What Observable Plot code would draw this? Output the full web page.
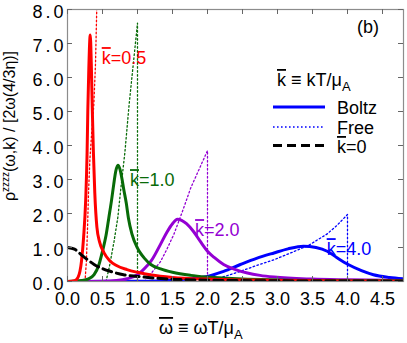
<!DOCTYPE html>
<html><head><meta charset="utf-8">
<script src="https://cdn.jsdelivr.net/npm/d3@7"></script>
<script src="https://cdn.jsdelivr.net/npm/@observablehq/plot@0.6"></script>
<style>body{margin:0;background:#fff} svg{display:block}</style>
</head><body><div id="chart"></div>
<script>
// ---- data ----
const xTicks = [0, 0.5, 1.0, 1.5, 2.0, 2.5, 3.0, 3.5, 4.0, 4.5];
const yTicks = [0, 1, 2, 3, 4, 5, 6, 7, 8];

const boltzK05 = [[0,0],[0.1,0.02],[0.15,0.12],[0.2,0.6],[0.23,1.3],[0.26,2.4],[0.28,3.8],[0.29,5.0],[0.305,6.3],[0.325,7.25],[0.34,6.4],[0.355,5.0],[0.37,3.8],[0.39,2.6],[0.42,1.6],[0.46,1.15],[0.52,0.85],[0.6,0.62],[0.7,0.47],[0.85,0.35],[1.0,0.27],[1.2,0.19],[1.5,0.12],[2.0,0.07],[2.5,0.045],[3.0,0.03],[4.0,0.015],[4.8,0.01]];
const boltzK10 = [[0,0],[0.2,0.03],[0.3,0.08],[0.38,0.2],[0.45,0.5],[0.5,0.89],[0.55,1.35],[0.59,1.87],[0.63,2.4],[0.66,2.85],[0.69,3.25],[0.72,3.42],[0.75,3.3],[0.78,3.0],[0.8,2.75],[0.84,2.3],[0.87,1.87],[0.92,1.4],[1.0,0.98],[1.04,0.84],[1.1,0.68],[1.19,0.5],[1.33,0.37],[1.5,0.27],[1.76,0.18],[2.0,0.13],[2.5,0.07],[3.0,0.045],[4.0,0.025],[4.8,0.02]];
const boltzK20 = [[0,0],[0.5,0.01],[0.7,0.03],[0.85,0.08],[1.0,0.2],[1.07,0.32],[1.14,0.47],[1.2,0.62],[1.33,1.1],[1.42,1.45],[1.5,1.7],[1.57,1.83],[1.63,1.8],[1.7,1.7],[1.8,1.47],[1.9,1.17],[2.0,0.89],[2.1,0.7],[2.23,0.5],[2.4,0.35],[2.57,0.25],[2.75,0.18],[2.95,0.13],[3.5,0.07],[4.0,0.05],[4.8,0.03]];
const boltzK40 = [[0,0],[1.0,0.01],[1.5,0.04],[2.0,0.15],[2.23,0.3],[2.47,0.5],[2.7,0.68],[2.95,0.84],[3.15,0.96],[3.37,1.04],[3.55,1.0],[3.71,0.89],[3.85,0.7],[4.01,0.5],[4.2,0.32],[4.37,0.2],[4.6,0.12],[4.8,0.08]];
const freeK05 = [[0.25,0],[0.27,0.6],[0.285,1.5],[0.30,2.6],[0.32,3.6],[0.35,4.5],[0.376,5.2],[0.40,6.4],[0.42,8.2],[0.44,10]];
const freeK10 = [[0.55,0],[0.6,0.45],[0.665,1.18],[0.72,1.9],[0.76,2.7],[0.82,3.8],[0.88,5.2],[0.94,6.4],[1.0,7.6],[1.0,0]];
const freeK20 = [[1.1,0],[1.2,0.25],[1.33,0.59],[1.42,0.95],[1.52,1.39],[1.64,2.05],[1.76,2.75],[1.88,3.3],[2.0,3.85],[2.0,0]];
const freeK40 = [[2.0,0],[2.2,0.12],[2.47,0.3],[2.7,0.47],[2.95,0.64],[3.2,0.85],[3.45,1.07],[3.71,1.4],[3.85,1.65],[4.0,1.97],[4.0,0]];
const zeroK = [[0,1.0],[0.1,0.95],[0.19,0.8],[0.3,0.62],[0.38,0.5],[0.5,0.38],[0.61,0.3],[0.8,0.2],[1.0,0.15],[1.47,0.07],[2.0,0.04],[3.0,0.02],[4.8,0.01]];

const kNames = ["0.5", "1.0", "2.0", "4.0"];
const kColors = ["#ff0000", "#086b08", "#9400d3", "#0000ff"];
const boltzSeries = [boltzK05, boltzK10, boltzK20, boltzK40];
const freeSeries = [freeK05, freeK10, freeK20, freeK40];
const labelX = [0.496, 0.90, 1.83, 3.71];
const labelY = [6.38, 2.79, 1.32, 0.76];

// ---- build tables ----
const toRows = (arr, k) => arr.map(([x, y]) => ({x, y, k}));
const boltzRows = boltzSeries.flatMap((s, i) => toRows(s, kNames[i]));
const freeRows = freeSeries.flatMap((s, i) => toRows(s, kNames[i]));
const zeroRows = toRows(zeroK, "0");

const FONT = "'Liberation Sans', Arial, Helvetica, sans-serif";

const plot = Plot.plot({
  width: 407, height: 343,
  marginLeft: 67, marginRight: 4, marginTop: 9, marginBottom: 62,
  style: {fontFamily: FONT, fontSize: "18px", background: "#fff", color: "#000"},
  x: {domain: [0, 4.8], axis: null},
  y: {domain: [0, 8], axis: null},
  color: {domain: kNames, range: kColors},
  marks: [
    Plot.line(freeRows, {x: "x", y: "y", z: "k", stroke: "k", strokeWidth: 1.3, strokeDasharray: "1.6,2.4", clip: true}),
    Plot.line(boltzRows.filter(d => d.k === "4.0"), {x: "x", y: "y", stroke: "k", strokeWidth: 3, curve: "monotone-x", clip: true}),
    Plot.line(boltzRows.filter(d => d.k === "2.0"), {x: "x", y: "y", stroke: "k", strokeWidth: 3, curve: "monotone-x", clip: true}),
    Plot.line(boltzRows.filter(d => d.k === "1.0"), {x: "x", y: "y", stroke: "k", strokeWidth: 3, curve: "monotone-x", clip: true}),
    Plot.line(boltzRows.filter(d => d.k === "0.5"), {x: "x", y: "y", stroke: "k", strokeWidth: 3, curve: "monotone-x", clip: true}),
    Plot.line(zeroRows, {x: "x", y: "y", stroke: "#000", strokeWidth: 3, strokeDasharray: "9,5", curve: "monotone-x", clip: true}),
    Plot.frame({stroke: "#8c8c8c", strokeWidth: 1.2}),
    Plot.tickX(xTicks, {x: d => d, stroke: "#666", insetBottom: 267}),
    Plot.tickX(xTicks, {x: d => d, stroke: "#666", insetTop: 267}),
    Plot.tickY(yTicks, {y: d => d, stroke: "#666", insetRight: 331}),
    Plot.tickY(yTicks, {y: d => d, stroke: "#666", insetLeft: 331}),
    Plot.axisX(xTicks, {tickSize: 0, tickPadding: 11, tickFormat: d3.format(".1f"), fontSize: 18, label: null}),
    Plot.axisY(yTicks, {tickSize: 0, tickPadding: 1, tickFormat: d3.format(".1f"), fontSize: 18, label: null, dy: 3})
  ]
});
document.getElementById("chart").appendChild(plot);

const svg = d3.select(plot);
svg.selectAll('g[aria-label="y-axis tick label"] text').style("letter-spacing", "3px");
const xs = plot.scale("x"), ys = plot.scale("y");

// curve labels
const gl = svg.append("g").attr("font-family", FONT).attr("font-size", 18).attr("text-anchor", "start");
kNames.forEach((k, i) => {
  const t = gl.append("text").attr("x", xs.apply(labelX[i])).attr("y", ys.apply(labelY[i])).attr("fill", kColors[i]);
  t.append("tspan").style("text-decoration", "overline").text("k");
  t.append("tspan").text("=" + k);
});

// panel tag
gl.append("text").attr("x", 357).attr("y", 33).text("(b)");

// legend
const lg = svg.append("g").attr("font-family", FONT).attr("font-size", 18).attr("text-anchor", "start");
const lt = lg.append("text").attr("x", 277).attr("y", 86);
lt.append("tspan").style("text-decoration", "overline").text("k");
lt.append("tspan").text(" \u2261 kT/\u03bc");
lt.append("tspan").attr("font-size", 13).attr("dy", 5).text("A");
lg.append("line").attr("x1", 273).attr("x2", 325).attr("y1", 107).attr("y2", 107).attr("stroke", "#0000ff").attr("stroke-width", 3);
lg.append("text").attr("x", 337).attr("y", 114).text("Boltz");
lg.append("line").attr("x1", 273).attr("x2", 325).attr("y1", 127).attr("y2", 127).attr("stroke", "#0000ff").attr("stroke-width", 1.3).attr("stroke-dasharray", "1.6,2.4");
lg.append("text").attr("x", 337).attr("y", 134).text("Free");
lg.append("line").attr("x1", 273).attr("x2", 325).attr("y1", 145.5).attr("y2", 145.5).attr("stroke", "#000").attr("stroke-width", 3).attr("stroke-dasharray", "9,5");
const lk = lg.append("text").attr("x", 337).attr("y", 153);
lk.append("tspan").style("text-decoration", "overline").text("k");
lk.append("tspan").text("=0");

// axis titles
const xl = lg.append("text").attr("x", 159).attr("y", 334);
xl.append("tspan").style("text-decoration", "overline").text("\u03c9");
xl.append("tspan").text(" \u2261 \u03c9T/\u03bc");
xl.append("tspan").attr("font-size", 13).attr("dy", 5).text("A");

const yl = svg.append("text").attr("font-family", FONT).attr("transform", "translate(15,126) rotate(-90)").attr("text-anchor", "middle").attr("font-size", 16);
yl.append("tspan").text("\u03c1");
yl.append("tspan").attr("font-size", 10).attr("dy", -6).text("zzzz");
yl.append("tspan").attr("dy", 6).text("(\u03c9,k) / [2\u03c9(4/3\u03b7)]");
</script>
</body></html>
